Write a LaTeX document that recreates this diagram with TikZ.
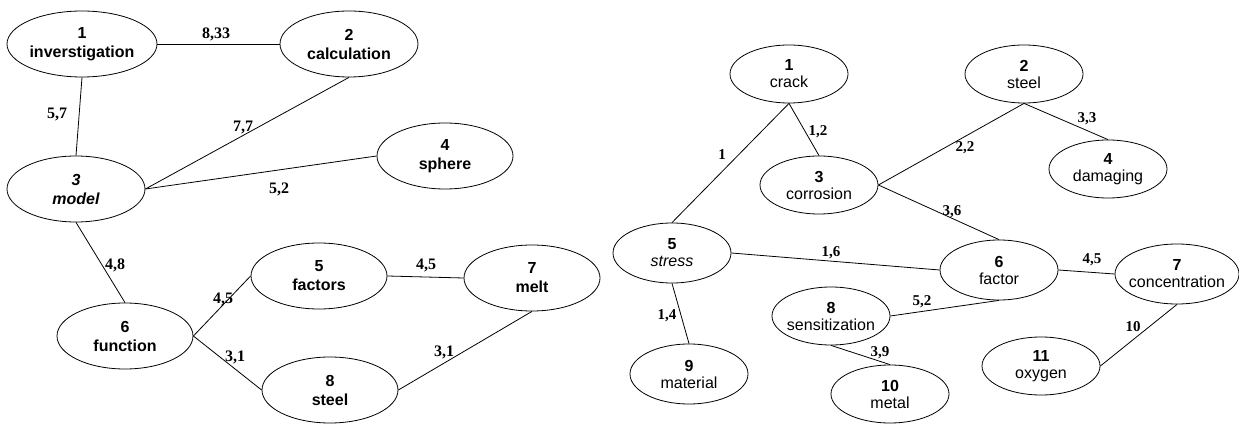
\documentclass[tikz,border=0pt]{standalone}
\usepackage{fontspec}
\setmainfont{Liberation Sans}
\newfontfamily\numfont{Liberation Serif}
\usetikzlibrary{shapes.geometric}

\tikzset{
  lnode/.style={draw, ellipse, line width=0.8pt, inner sep=0pt, minimum width=136pt, minimum height=66pt, align=center, font=\fontsize{16}{19}\selectfont\bfseries},
  rnode/.style={draw, ellipse, line width=0.8pt, inner sep=0pt, minimum width=118pt, minimum height=58pt, align=center, font=\fontsize{16}{17}\selectfont},
  wt/.style={inner sep=1pt, font=\numfont\fontsize{15}{15}\selectfont\bfseries},
  lwt/.style={wt, font=\numfont\fontsize{16}{16}\selectfont\bfseries},
  link/.style={line width=0.8pt},
}

\begin{document}
\begin{tikzpicture}[x=10pt,y=10pt]
\useasboundingbox (0,0) rectangle (123.9,42.3);

% left graph
\node[lnode, minimum width=150pt] (invest) at (8.2,37.9) {1\\inverstigation};
\node[lnode, minimum width=138pt] (calc) at (34.9,37.9) {2\\calculation};
\node[lnode, minimum width=138pt] (model) at (7.6,23.4) {\itshape 3\\\itshape model};
\node[lnode] (sphere) at (44.5,26.7) {4\\sphere};
\node[lnode] (factors) at (31.9,14.7) {5\\factors};
\node[lnode] (func) at (12.5,8.7) {6\\function};
\node[lnode] (melt) at (53.2,14.5) {7\\melt};
\node[lnode] (lsteel) at (33.0,3.3) {8\\steel};

\draw[link] (invest.east) -- (calc.west);
\draw[link] (invest.south) -- (model.north);
\draw[link] (calc.south) -- (model.east);
\draw[link] (model.east) -- (sphere.west);
\draw[link] (model.south) -- (func.north);
\draw[link] (func.east) -- (factors.west);
\draw[link] (func.east) -- (lsteel.west);
\draw[link] (factors.east) -- (melt.west);
\draw[link] (lsteel.east) -- (melt.south);

\node[lwt] (w12) at (21.6,38.9) {8,33};
\node[lwt] (w13) at (5.7,30.8) {5,7};
\node[lwt] (w23) at (24.3,29.5) {7,7};
\node[lwt] (w34) at (27.9,23.4) {5,2};
\node[lwt] (w36) at (11.5,15.8) {4,8};
\node[lwt] (w65) at (22.3,12.4) {4,5};
\node[lwt] (w68) at (23.5,6.6) {3,1};
\node[lwt] (w57) at (42.6,15.8) {4,5};
\node[lwt] (w87) at (44.4,7.1) {3,1};

% right graph
\node[rnode] (crack) at (78.9,34.9) {\textbf{1}\\crack};
\node[rnode] (rsteel) at (102.4,34.9) {\textbf{2}\\steel};
\node[rnode] (corr) at (81.9,23.8) {\textbf{3}\\corrosion};
\node[rnode] (damag) at (110.8,25.4) {\textbf{4}\\damaging};
\node[rnode, minimum height=60pt] (stress) at (67.2,17.0) {\textbf{5}\\\textit{stress}};
\node[rnode, minimum height=60pt] (factor) at (99.9,15.3) {\textbf{6}\\factor};
\node[rnode, minimum width=124pt, minimum height=60pt, inner xsep=-4.2pt] (conc) at (117.7,14.9) {\textbf{7}\\concentration};
\node[rnode, inner xsep=-2.3pt] (sens) at (83.1,10.7) {\textbf{8}\\sensitization};
\node[rnode, minimum height=60pt] (mater) at (68.9,4.9) {\textbf{9}\\material};
\node[rnode] (metal) at (89.0,2.9) {\textbf{10}\\metal};
\node[rnode] (oxygen) at (104.1,5.7) {\textbf{11}\\oxygen};

\draw[link] (crack.south) -- (stress.north);
\draw[link] (crack.south) -- (corr.north);
\draw[link] (rsteel.south) -- (corr.east);
\draw[link] (rsteel.south) -- (damag.north);
\draw[link] (corr.east) -- (factor.north);
\draw[link] (stress.east) -- (factor.west);
\draw[link] (factor.east) -- (conc.west);
\draw[link] (factor.south) -- (sens.east);
\draw[link] (stress.south) -- (mater.north);
\draw[link] (sens.south) -- (metal.north);
\draw[link] (conc.south) -- (oxygen.east);

\node[wt] (v15) at (72.2,26.8) {1};
\node[wt] (v13) at (81.8,29.1) {1,2};
\node[wt] (v23) at (96.5,27.5) {2,2};
\node[wt] (v24) at (108.7,30.4) {3,3};
\node[wt] (v36) at (95.2,21.1) {3,6};
\node[wt] (v56) at (83.1,17.0) {1,6};
\node[wt] (v67) at (109.2,16.3) {4,5};
\node[wt] (v68) at (92.2,12.1) {5,2};
\node[wt] (v59) at (66.7,10.7) {1,4};
\node[wt] (v810) at (88.0,7.0) {3,9};
\node[wt] (v711) at (113.3,9.6) {10};

\end{tikzpicture}
\end{document}
